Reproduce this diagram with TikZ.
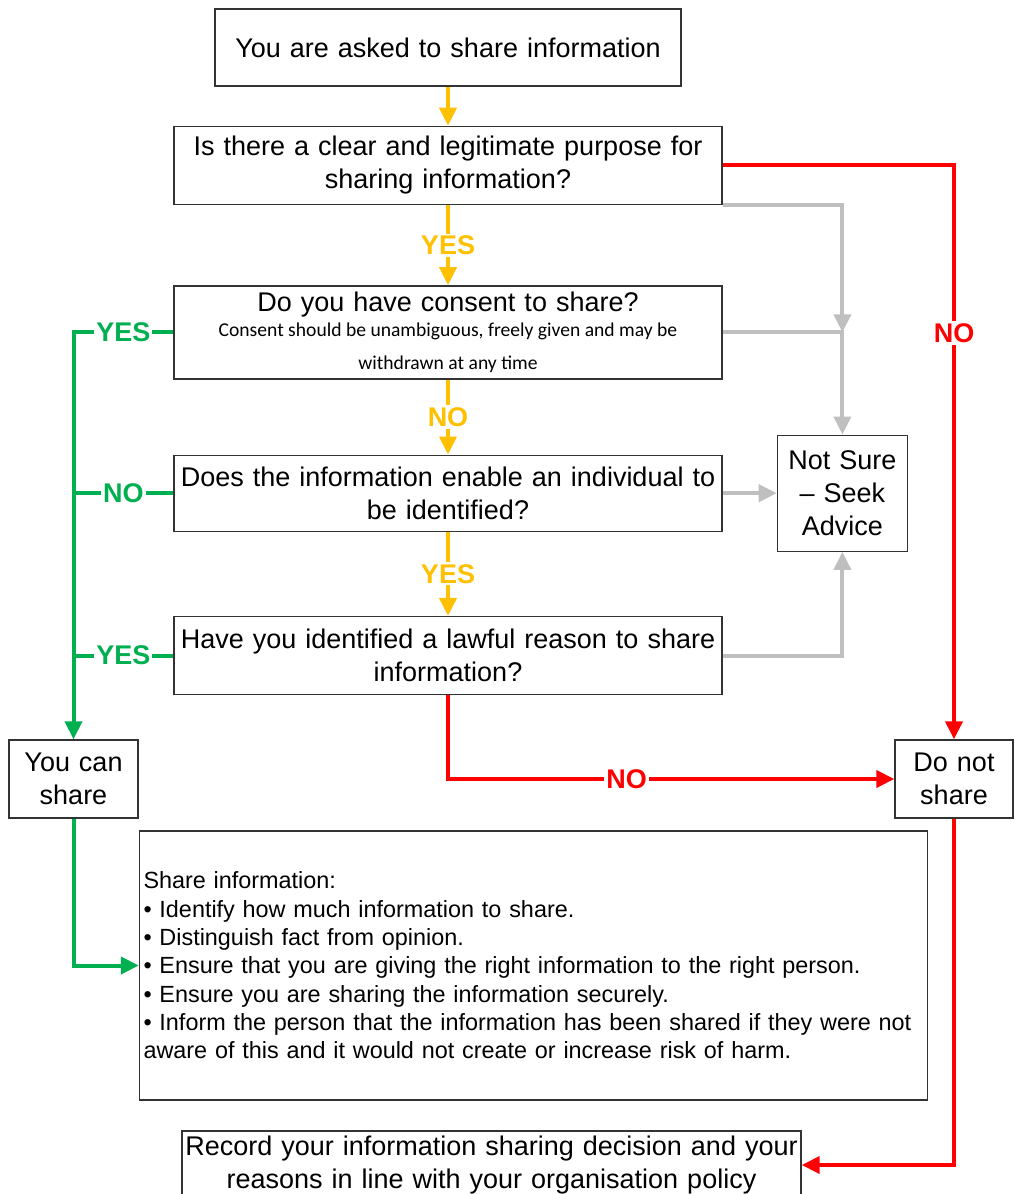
\documentclass[tikz,border=0pt]{standalone}
\usepackage{fontspec}
\setmainfont{Liberation Sans}
\newfontfamily\consentfont{Carlito}
\usetikzlibrary{arrows.meta,positioning}
\definecolor{ygold}{HTML}{FFC000}
\definecolor{sgreen}{HTML}{00B050}
\definecolor{nred}{HTML}{FF0000}
\definecolor{sgrey}{HTML}{BFBFBF}
\newcommand{\boxfont}{\fontsize{13.5}{16.5}\selectfont}
\newcommand{\listfont}{\fontsize{11.7}{14.15}\selectfont}
\newcommand{\notefont}{\consentfont\fontsize{9.8}{15.5}\selectfont\spaceskip=\fontdimen2\font\relax\xspaceskip=\fontdimen2\font\relax}
\newcommand{\qwidth}{274pt}
\newcommand{\qheight}{39pt}
\tikzset{
    stage/.style = { draw=black!80, line width=0.7pt, rectangle, align=center,
        inner sep=0pt,
        font=\boxfont
    },
    qstage/.style = { stage,
        text width = \qwidth,
        minimum height = \qheight
    },
    notes/.style = { draw=black!80, line width=0.7pt, rectangle, align=left,
        inner xsep=2pt, inner ysep=0pt,
        text width = 390pt,
        minimum height = 134.5pt,
        font=\listfont
    },
    answer/.style = { fill=white, inner sep=1pt,
        font=\fontsize{13.5}{16}\selectfont\bfseries
    },
    flow/.style = { line width=2pt, -{Triangle[length=9pt,width=8.5pt]} },
    yarrow/.style = { flow, draw=ygold },
    garrow/.style = { flow, draw=sgreen },
    gline/.style = { line width=2pt, draw=sgreen },
    rarrow/.style = { flow, draw=nred },
    greyarrow/.style = { flow, draw=sgrey }
}
\begin{document}
\begin{tikzpicture}
    \useasboundingbox (0,0) rectangle (507pt,-597pt);

    % question column...
    \node[stage, text width=233pt, minimum height=38.5pt] (asked) at (224pt,-23.75pt) {You are asked to share information};
    \node[qstage] (purpose) [below=19.5pt of asked] {Is there a clear and legitimate purpose for\\ sharing information?};
    \node[qstage, minimum height=46.5pt] (consent) [below=40pt of purpose]
        {Do you have consent to share?\\[-3pt] \notefont Consent should be unambiguous, freely given and may be\\ \notefont withdrawn at any time};
    \node[qstage, minimum height=38pt] (identify) [below=37.5pt of consent] {Does the information enable an individual to\\ be identified?};
    \node[qstage] (lawful) [below=42pt of identify] {Have you identified a lawful reason to share\\ information?};

    % outcomes...
    \node[stage, text width=65pt, minimum height=58pt] (notsure) [right=27pt of identify] {Not Sure\\ -- Seek\\ Advice};
    \node[stage, text width=64.5pt, minimum height=\qheight] (canshare) at (36.75pt,-389.5pt) {You can\\ share};
    \node[stage, text width=59pt, minimum height=\qheight] (dontshare) at (477pt,-389.5pt) {Do not\\ share};
    \node[notes] (shareinfo) at (266.75pt,-482.75pt) {Share information:\\
        \textbullet{} Identify how much information to share.\\
        \textbullet{} Distinguish fact from opinion.\\
        \textbullet{} Ensure that you are giving the right information to the right person.\\
        \textbullet{} Ensure you are sharing the information securely.\\
        \textbullet{} Inform the person that the information has been shared if they were not\\
        aware of this and it would not create or increase risk of harm.};
    \node[stage, text width=309.5pt, minimum height=34pt] (record) at (245.75pt,-582.5pt)
        {Record your information sharing decision and your\\ reasons in line with your organisation policy};

    % yellow arrows...
    \draw[yarrow] (asked) -- (purpose);
    \draw[yarrow] (purpose) -- node[answer, text=ygold] {YES} (consent);
    \draw[yarrow] (consent) -- node[answer, text=ygold] {NO} (identify);
    \draw[yarrow] (identify) -- node[answer, text=ygold] {YES} (lawful);

    % grey arrows...
    \draw[greyarrow] (purpose.south east) -| (consent.east -| notsure.north);
    \draw[greyarrow] (consent.east) -| (notsure.north);
    \draw[greyarrow] (identify.east) -- (notsure.west);
    \draw[greyarrow] (lawful.east) -| (notsure.south);

    % green arrows...
    \draw[garrow] (consent.west) -| node[answer, text=sgreen, pos=0.25] {YES} (canshare.north);
    \draw[gline] (identify.west) -- node[answer, text=sgreen] {NO} (identify.west -| canshare.north);
    \draw[gline] (lawful.west) -- node[answer, text=sgreen] {YES} (lawful.west -| canshare.north);
    \draw[garrow] (canshare.south) |- (shareinfo.west);

    % red arrows...
    \draw[rarrow] (purpose.east) -| node[answer, text=nred, pos=0.646] {NO} (dontshare.north);
    \draw[rarrow] (lawful.south) |- node[answer, text=nred, pos=0.70] {NO} (dontshare.west);
    \draw[rarrow] (dontshare.south) |- (record.east);
\end{tikzpicture}
\end{document}
